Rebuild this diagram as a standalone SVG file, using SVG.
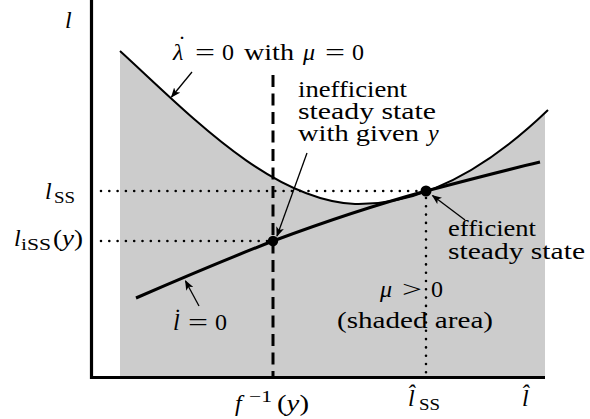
<svg xmlns="http://www.w3.org/2000/svg" width="590" height="419" viewBox="0 0 590 419">
<style>
.lbl text{font-size:24px;fill:#000}
.it{font-style:italic}
.sub{font-size:16px}
.ax{stroke:#000;stroke-width:3.2;fill:none}
.curve{stroke:#000;fill:none}
.dot{stroke:#000;stroke-width:2.6;stroke-linecap:round;stroke-dasharray:0 8.3;fill:none}
.dash{stroke:#000;stroke-width:3;stroke-dasharray:12 6.5;fill:none}
.arr{stroke:#000;stroke-width:1.3;fill:none;marker-end:url(#ah)}
</style>
<defs>
<marker id="ah" viewBox="0 0 10 8" refX="9" refY="4" markerWidth="10" markerHeight="8" markerUnits="userSpaceOnUse" orient="auto">
<path d="M0,0 L10,4 L0,8 L2.5,4 Z" fill="#000"/>
</marker>
<clipPath id="clipShade"><rect x="0" y="0" width="545" height="419"/></clipPath>
</defs>
<g id="shade">
<path clip-path="url(#clipShade)" d="M120,377 L120,51 C190,115 270,200 355,204 C405,205 470,185 548,110 L548,377 Z" fill="#cccccc"/>
</g>
<g id="connectors">
<path class="dot" d="M101,191 H426 V377"/>
<path class="dot" d="M101,241 H273"/>
<path class="dash" d="M273,75 V377"/>
<path class="arr" d="M192,72 L171.5,97"/>
<path class="arr" d="M307,153 L277,236"/>
<path class="arr" d="M465,220 L432.5,195.5"/>
<path class="arr" d="M199,306 L185.5,281"/>
</g>
<g id="axes">
<path class="ax" d="M91.5,0 V377.5 H545"/>
</g>
<g id="curve-lambda">
<path class="curve" stroke-width="2" d="M120,51 C190,115 270,200 355,204 C405,205 470,185 548,110"/>
</g>
<g id="curve-ldot">
<path class="curve" stroke-width="3" d="M136,298 C182,278 227,259 273,241 C324,222 375,205 426,191 C464,181 502,171 540,162"/>
</g>
<g id="point-inefficient"><circle cx="273" cy="241" r="5.2" fill="#000"/></g>
<g id="point-efficient"><circle cx="426" cy="191" r="5.5" fill="#000"/></g>
<g id="labels" class="lbl" font-family="Liberation Serif, Times New Roman, serif">
<text class="it" x="65" y="28">l</text>
<text y="60"><tspan class="it" x="173">λ</tspan><tspan x="178" dy="-8">˙</tspan><tspan x="195" dy="8" textLength="20" lengthAdjust="spacingAndGlyphs">=</tspan><tspan x="222">0</tspan><tspan x="244" textLength="50" lengthAdjust="spacingAndGlyphs">with</tspan><tspan class="it" x="303">μ</tspan><tspan x="325" textLength="20" lengthAdjust="spacingAndGlyphs">=</tspan><tspan x="352">0</tspan></text>
<text id="t-inefficient"><tspan x="298" y="97" textLength="109" lengthAdjust="spacingAndGlyphs">inefficient</tspan><tspan x="298" y="119" textLength="138" lengthAdjust="spacingAndGlyphs">steady state</tspan><tspan x="298" y="141" textLength="121" lengthAdjust="spacingAndGlyphs">with given</tspan><tspan class="it" x="428" y="141">y</tspan></text>
<text id="t-efficient"><tspan x="448" y="236" textLength="88" lengthAdjust="spacingAndGlyphs">efficient</tspan><tspan x="448" y="259" textLength="137" lengthAdjust="spacingAndGlyphs">steady state</tspan></text>
<text y="199"><tspan class="it" x="45">l</tspan><tspan class="sub" x="54" dy="4" textLength="21" lengthAdjust="spacingAndGlyphs">SS</tspan></text>
<text y="246"><tspan class="it" x="14">l</tspan><tspan class="sub" x="21" dy="4" textLength="30" lengthAdjust="spacingAndGlyphs">iSS</tspan><tspan x="53" dy="-4" textLength="30" lengthAdjust="spacingAndGlyphs">(<tspan class="it">y</tspan>)</tspan></text>
<text y="330"><tspan class="it" x="173">l̇</tspan><tspan x="188" textLength="20" lengthAdjust="spacingAndGlyphs">=</tspan><tspan x="215">0</tspan></text>
<text y="297"><tspan class="it" x="380">μ</tspan><tspan x="402" textLength="20" lengthAdjust="spacingAndGlyphs">&gt;</tspan><tspan x="431">0</tspan></text>
<text x="337" y="328" textLength="156" lengthAdjust="spacingAndGlyphs">(shaded area)</text>
<text y="411"><tspan class="it" x="235">f</tspan><tspan class="sub" x="249" dy="-9" textLength="23" lengthAdjust="spacingAndGlyphs">−1</tspan><tspan x="277" dy="9" textLength="32" lengthAdjust="spacingAndGlyphs">(<tspan class="it">y</tspan>)</tspan></text>
<text y="406"><tspan class="it" x="408">l̂</tspan><tspan class="sub" x="419" dy="4" textLength="21" lengthAdjust="spacingAndGlyphs">SS</tspan></text>
<text class="it" x="522" y="406">l̂</text>
</g>
</svg>
